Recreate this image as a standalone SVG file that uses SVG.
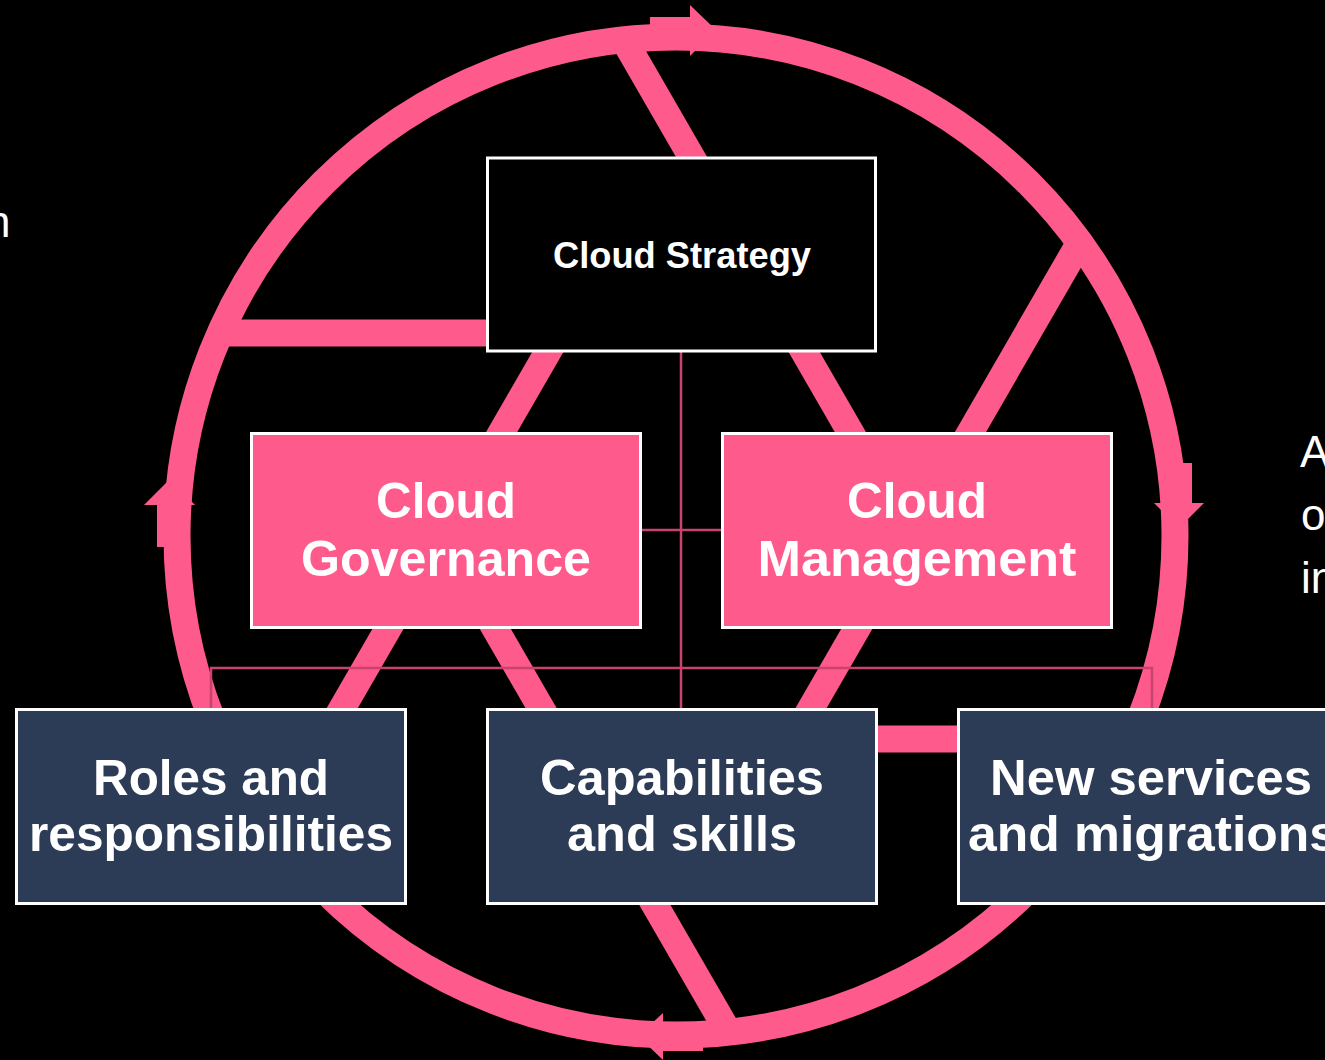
<svg xmlns="http://www.w3.org/2000/svg" width="1325" height="1060" viewBox="0 0 1325 1060">
<style>
.bg{fill:#000}
.blade{stroke:#ff5a8c;stroke-width:27;fill:none;stroke-linecap:butt}
.ring{stroke:#ff5a8c;stroke-width:27;fill:none}
.pink{fill:#ff5a8c}
.conn{stroke:#c8446e;stroke-width:2.5;fill:none}
.box{stroke:#fff;stroke-width:3}
.t{font-family:"Liberation Sans",Arial,sans-serif;font-weight:bold;fill:#fff;text-anchor:middle}
.side{font-family:"Liberation Sans",Arial,sans-serif;fill:#fff;font-size:44px}
</style>
<defs>
<clipPath id="ringclip"><circle cx="676" cy="536" r="505"/></clipPath>
</defs>
<rect class="bg" x="0" y="0" width="1325" height="1060"/>
<text class="side" x="-14" y="237" font-size="40">n</text>
<text class="side" x="1300" y="467">A</text>
<text class="side" x="1301" y="530">o</text>
<text class="side" x="1301" y="593">in</text>
<g id="cycle">
<g clip-path="url(#ringclip)">
<line class="blade" x1="100" y1="333" x2="793.2" y2="333"/>
<line class="blade" x1="558.8" y1="-73" x2="910.4" y2="536"/>
<line class="blade" x1="1144.8" y1="130" x2="793.2" y2="739"/>
<line class="blade" x1="1300" y1="739" x2="558.8" y2="739"/>
<line class="blade" x1="793.6" y1="1145" x2="441.6" y2="536"/>
<line class="blade" x1="207.2" y1="942" x2="558.8" y2="333"/>
</g>
<circle class="ring" cx="676" cy="536" r="499"/>
<rect class="pink" x="650" y="17" width="40" height="20"/>
<polygon class="pink" points="690,5 716,30 690,56"/>
<rect class="pink" x="1175" y="463" width="17" height="40"/>
<polygon class="pink" points="1154,503 1204,503 1179,528"/>
<rect class="pink" x="663" y="1035" width="40" height="16"/>
<polygon class="pink" points="663,1013 663,1060 638,1036"/>
<rect class="pink" x="157" y="505" width="12" height="42"/>
<polygon class="pink" points="144,505 195,505 170,479"/>
</g>
<g id="connectors">
<line class="conn" x1="681" y1="352" x2="681" y2="708"/>
<line class="conn" x1="641" y1="530" x2="722" y2="530"/>
<path class="conn" d="M211,708 V668 H1152 V708"/>
</g>
<g id="cloud-strategy">
<rect class="box" x="487.5" y="158" width="388" height="193" fill="#000"/>
<text class="t" x="682" y="268" font-size="36" textLength="258" lengthAdjust="spacingAndGlyphs">Cloud Strategy</text>
</g>
<g id="cloud-governance">
<rect class="box" x="251.5" y="433.5" width="389" height="194" fill="#ff5a8c"/>
<text class="t" x="446" y="518" font-size="50" textLength="140" lengthAdjust="spacingAndGlyphs">Cloud</text>
<text class="t" x="446" y="576" font-size="50" textLength="290" lengthAdjust="spacingAndGlyphs">Governance</text>
</g>
<g id="cloud-management">
<rect class="box" x="722.5" y="433.5" width="389" height="194" fill="#ff5a8c"/>
<text class="t" x="917" y="518" font-size="50" textLength="140" lengthAdjust="spacingAndGlyphs">Cloud</text>
<text class="t" x="917" y="576" font-size="50" textLength="319" lengthAdjust="spacingAndGlyphs">Management</text>
</g>
<g id="roles">
<rect class="box" x="16.5" y="709.5" width="389" height="194" fill="#2c3c57"/>
<text class="t" x="211" y="795" font-size="50" textLength="236" lengthAdjust="spacingAndGlyphs">Roles and</text>
<text class="t" x="211" y="851" font-size="50" textLength="364" lengthAdjust="spacingAndGlyphs">responsibilities</text>
</g>
<g id="capabilities">
<rect class="box" x="487.5" y="709.5" width="389" height="194" fill="#2c3c57"/>
<text class="t" x="682" y="795" font-size="50" textLength="284" lengthAdjust="spacingAndGlyphs">Capabilities</text>
<text class="t" x="682" y="851" font-size="50" textLength="230" lengthAdjust="spacingAndGlyphs">and skills</text>
</g>
<g id="new-services">
<rect class="box" x="958.5" y="709.5" width="389" height="194" fill="#2c3c57"/>
<text class="t" x="1151" y="795" font-size="50" textLength="322" lengthAdjust="spacingAndGlyphs">New services</text>
<text class="t" x="1153" y="851" font-size="50" textLength="370" lengthAdjust="spacingAndGlyphs">and migrations</text>
</g>
</svg>
